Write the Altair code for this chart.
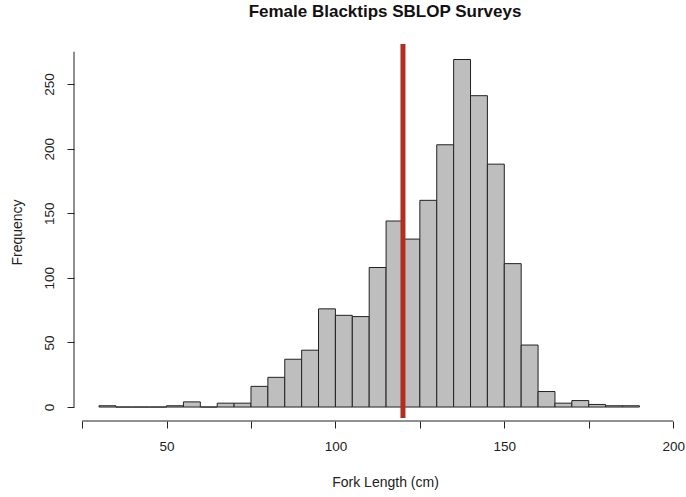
import altair as alt
import pandas as pd

bin_starts = [30, 35, 40, 45, 50, 55, 60, 65, 70, 75, 80, 85, 90, 95, 100, 105,
              110, 115, 120, 125, 130, 135, 140, 145, 150, 155, 160, 165, 170, 175, 180, 185]
counts = [1, 0, 0, 0, 1, 4, 0, 3, 3, 16, 23, 37, 44, 76, 71, 70,
          108, 144, 130, 160, 203, 269, 241, 188, 111, 48, 12, 3, 5, 2, 1, 1]
bin_width = 5
cutoff = [120]
x_ticks = [25, 50, 75, 100, 125, 150, 175, 200]
y_ticks = [0, 25, 50, 75, 100, 125, 150, 175, 200, 225, 250, 275]

df = pd.DataFrame({"start": bin_starts, "count": counts})
df["end"] = df["start"] + bin_width

W, H = 612, 377
xscale = alt.Scale(domain=[22.6, 203.8], nice=False, zero=False)
yscale = alt.Scale(domain=[-10.8, 281], nice=False, zero=False)

FONT = "Liberation Sans"
TXT = "#222222"

bars = alt.Chart(df).mark_rect(fill="#bebebe", stroke="#222222", strokeWidth=1).encode(
    x=alt.X("start:Q", scale=xscale,
            axis=alt.Axis(values=x_ticks, domain=False, grid=False, tickSize=7,
                          tickColor=TXT, labelFont=FONT, labelFontSize=13.5, labelColor=TXT,
                          labelPadding=11,
                          labelExpr="datum.value % 50 == 0 ? datum.label : ''",
                          title="Fork Length (cm)", titleFont=FONT, titleFontSize=14,
                          titleFontWeight="normal", titleColor=TXT,
                          titleX=311, titleY=61, titleBaseline="middle")),
    x2="end:Q",
    y=alt.Y("count:Q", scale=yscale,
            axis=alt.Axis(values=y_ticks, domain=False, grid=False, tickSize=7,
                          tickColor=TXT, labelFont=FONT, labelFontSize=13.5, labelColor=TXT,
                          labelAngle=270, labelAlign="center", labelBaseline="bottom",
                          labelPadding=11,
                          labelExpr="datum.value % 50 == 0 ? datum.label : ''",
                          title="Frequency", titleFont=FONT, titleFontSize=14,
                          titleFontWeight="normal", titleColor=TXT,
                          titleAngle=270, titleX=-57, titleY=188,
                          titleAlign="center", titleBaseline="middle")),
    y2=alt.datum(0),
)

xdom = alt.Chart(pd.DataFrame({"a": [x_ticks[0]], "b": [x_ticks[-1]]})).mark_rule(
    color=TXT, strokeWidth=1).encode(
    x=alt.X("a:Q", scale=xscale), x2="b:Q", y=alt.value(H))

ydom = alt.Chart(pd.DataFrame({"a": [y_ticks[0]], "b": [y_ticks[-1]]})).mark_rule(
    color=TXT, strokeWidth=1).encode(
    y=alt.Y("a:Q", scale=yscale), y2="b:Q", x=alt.value(0))

vline = alt.Chart(pd.DataFrame({"v": cutoff})).mark_rule(
    color="#b22e20", strokeWidth=5).encode(
    x=alt.X("v:Q", scale=xscale), y=alt.value(0), y2=alt.value(H - 3))

chart = alt.layer(bars, xdom, ydom, vline).properties(
    width=W, height=H,
    background="white",
    autosize=alt.AutoSizeParams(type="none"),
    padding={"left": 74, "top": 44, "right": 0, "bottom": 76},
    title=alt.TitleParams("Female Blacktips SBLOP Surveys", font=FONT, fontSize=17,
                          fontWeight="bold", color="#111111", anchor="middle",
                          offset=21, dx=5),
).configure_view(strokeWidth=0, stroke="transparent")

chart.save("out.html", embed_options={"renderer": "svg", "actions": False})
